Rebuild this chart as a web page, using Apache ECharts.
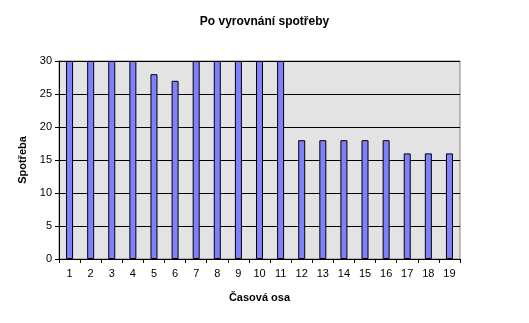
<!DOCTYPE html>
<html><head><meta charset="utf-8">
<script src="https://cdn.jsdelivr.net/npm/echarts@6/dist/echarts.min.js"></script>
<style>html,body{margin:0;padding:0;background:#fff}#c{width:529px;height:323px}</style>
</head><body><div id="c"></div>
<script>
const categories = ['1','2','3','4','5','6','7','8','9','10','11','12','13','14','15','16','17','18','19'];
const values = [30,30,30,30,28,27,30,30,30,30,30,18,18,18,18,18,16,16,16];
const titleText = 'Po vyrovnání spotřeby';
const yName = 'Spotřeba';
const xName = 'Časová osa';
const font = 'Liberation Sans, Arial, sans-serif';
const chart = echarts.init(document.getElementById('c'));
chart.setOption({
  animation: false,
  backgroundColor: '#fff',
  title: { text: titleText, left: 'center', top: 11, textStyle: { fontFamily: font, fontSize: 12, fontWeight: 'bold', color: '#000' } },
  grid: { left: 59, right: 69, top: 61, bottom: 64, show: true, backgroundColor: '#e3e3e3', borderColor: '#808080', borderWidth: 1 },
  xAxis: {
    type: 'category', data: categories,
    name: xName, nameLocation: 'middle', nameGap: 33,
    nameTextStyle: { fontFamily: font, fontSize: 11, fontWeight: 'bold', color: '#000' },
    axisLine: { lineStyle: { color: '#000' } },
    axisTick: { show: true, length: 4, lineStyle: { color: '#000' } },
    axisLabel: { fontFamily: font, fontSize: 11, color: '#000', margin: 9 }
  },
  yAxis: {
    type: 'value', min: 0, max: 30, interval: 5,
    name: yName, nameLocation: 'middle', nameGap: 23,
    nameTextStyle: { fontFamily: font, fontSize: 11, fontWeight: 'bold', color: '#000' },
    axisLine: { show: true, lineStyle: { color: '#000' } },
    axisTick: { show: true, length: 4, lineStyle: { color: '#000' } },
    axisLabel: { fontFamily: font, fontSize: 11, color: '#000', margin: 7 },
    splitLine: { show: true, lineStyle: { color: '#000', width: 1 } }
  },
  series: [{
    type: 'bar', data: values, barWidth: 7,
    itemStyle: { color: '#8080ff', borderColor: '#000', borderWidth: 1 }
  }]
});
</script></body></html>
